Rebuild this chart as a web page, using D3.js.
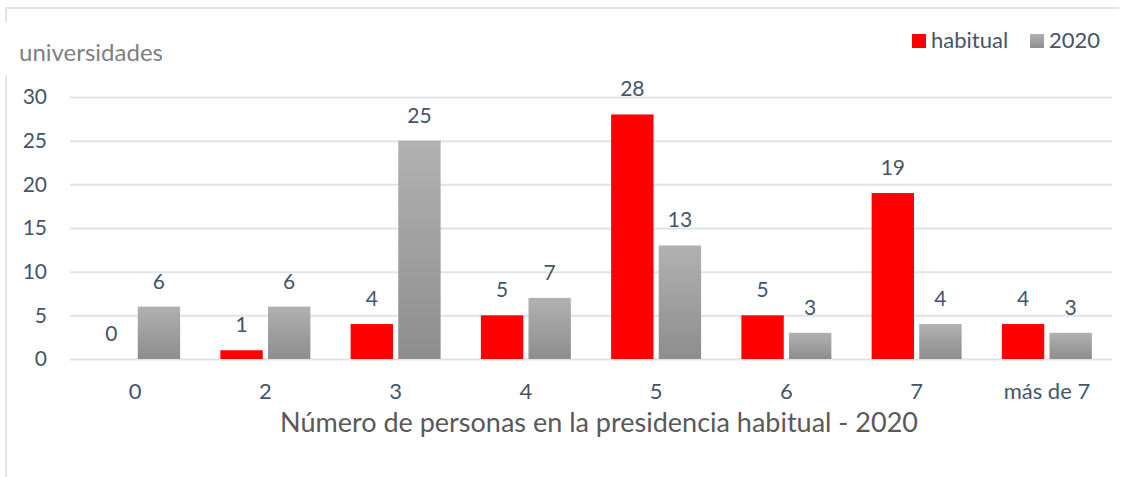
<!DOCTYPE html>
<html><head><meta charset="utf-8">
<script src="https://cdn.jsdelivr.net/npm/d3@7"></script>
<style>body{margin:0;background:#fff}svg{display:block}</style>
</head><body>
<svg id="c" width="1129" height="477"></svg>
<script>
const categories = ["0","2","3","4","5","6","7","más de 7"];
const habitual = [0,1,4,5,28,5,19,4];
const y2020 = [6,6,25,7,13,3,4,3];
const yTicks = [0,5,10,15,20,25,30];
const seriesNames = ["habitual","2020"];

const svg = d3.select("#c");
const FONT = "Lato, 'Open Sans', sans-serif";
const m = {left:70, right:1112, top:97, bottom:359};

const defs = svg.append("defs");
const g1 = defs.append("linearGradient").attr("id","gray").attr("x1",0).attr("y1",0).attr("x2",0).attr("y2",1);
g1.append("stop").attr("offset","0%").attr("stop-color","#b1b1b1");
g1.append("stop").attr("offset","100%").attr("stop-color","#8d8d8d");

// frame
svg.append("path").attr("d","M6,23 V8 H1119").attr("fill","none").attr("stroke","#e1e4e8").attr("stroke-width",2);
svg.append("line").attr("x1",6).attr("x2",6).attr("y1",75).attr("y2",477).attr("stroke","#e1e4e8").attr("stroke-width",2);

const x = d3.scaleBand().domain(categories).range([m.left,m.right]);
const y = d3.scaleLinear().domain([0,30]).range([m.bottom,m.top]);
const xs = d3.scaleBand().domain(seriesNames).range([-45,45]).paddingInner(0.11);

// grid
const gy = svg.append("g").attr("transform",`translate(${m.left},0)`)
  .call(d3.axisLeft(y).tickValues(yTicks).tickSize(-(m.right-m.left)).tickPadding(23));
gy.select(".domain").remove();
gy.selectAll(".tick line").attr("stroke","#dfe3e8").attr("stroke-width",2);
gy.selectAll(".tick text").attr("fill","#44546a").attr("font-size",21).attr("font-family",FONT);

const gx = svg.append("g").attr("transform",`translate(0,${m.bottom})`)
  .call(d3.axisBottom(x).tickSize(0).tickPadding(24));
gx.select(".domain").remove();
gx.selectAll(".tick text").attr("fill","#44546a").attr("font-size",22).attr("font-family",FONT);

const data = categories.map((c,i)=>({c, vals:[{s:"habitual",v:habitual[i]},{s:"2020",v:y2020[i]}]}));
const grp = svg.append("g").selectAll("g").data(data).join("g")
  .attr("transform",d=>`translate(${x(d.c)+x.bandwidth()/2},0)`);
grp.selectAll("rect").data(d=>d.vals).join("rect")
  .attr("x",d=>xs(d.s)).attr("width",xs.bandwidth())
  .attr("y",d=>y(d.v)).attr("height",d=>y(0)-y(d.v))
  .attr("fill",d=>d.s==="habitual"?"#ff0000":"url(#gray)");
grp.selectAll("text").data(d=>d.vals).join("text")
  .attr("x",d=>xs(d.s)+xs.bandwidth()/2).attr("y",d=>y(d.v)-18)
  .attr("text-anchor","middle").attr("fill","#44546a").attr("font-size",21).attr("font-family",FONT)
  .text(d=>d.v);

// y title
svg.append("text").attr("x",19).attr("y",61).attr("fill","#808080").attr("font-size",24).attr("font-family",FONT).text("universidades");
// x title
svg.append("text").attr("x",599).attr("y",432).attr("text-anchor","middle").attr("fill","#595959").attr("font-size",27).attr("font-family",FONT)
  .text("Número de personas en la presidencia habitual - 2020");

// legend
const leg = [{s:"habitual",x:912,fill:"#ff0000"},{s:"2020",x:1030,fill:"url(#gray)"}];
const lg = svg.append("g").selectAll("g").data(leg).join("g");
lg.append("rect").attr("x",d=>d.x).attr("y",34).attr("width",14).attr("height",14).attr("fill",d=>d.fill);
lg.append("text").attr("x",d=>d.x+19).attr("y",48).attr("fill","#44546a").attr("font-size",22).attr("font-family",FONT).text(d=>d.s);
</script>
</body></html>
